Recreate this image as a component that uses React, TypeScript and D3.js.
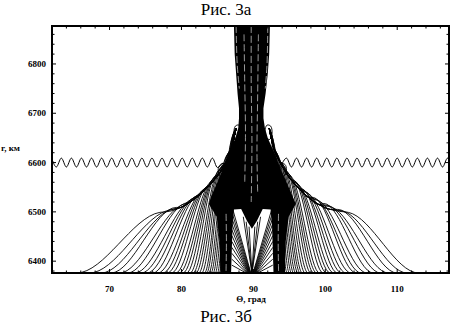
import * as d3 from "d3";
import { useEffect, useRef } from "react";

// axes
const thetaDomain: [number, number] = [62, 117.2];
const rDomain: [number, number] = [6376, 6877];
const xMajor = [70, 80, 90, 100, 110];
const xMinor = [64, 66, 68, 72, 74, 76, 78, 82, 84, 86, 88, 92, 94, 96, 98, 102, 104, 106, 108, 112, 114, 116];
const yMajor = [6400, 6500, 6600, 6700, 6800];
const yMinor = [6380, 6420, 6440, 6460, 6480, 6520, 6540, 6560, 6580, 6620, 6640, 6660, 6680, 6720, 6740, 6760, 6780, 6820, 6840, 6860];

// left family: where each trajectory leaves the bottom, and where it tops out
const leftStart = [65.4, 67.2, 68.8, 70.2, 71.4, 72.5, 73.5, 74.4, 75.2, 76.0, 76.7, 77.4, 78.0, 78.6, 79.2, 79.7, 80.2, 80.7, 81.2, 81.6, 82.0, 82.4, 82.8, 83.2, 83.5, 83.8, 84.1, 84.4, 84.7, 85.0, 85.25, 85.5, 85.75, 86.0, 86.25, 86.5];
const leftTopTheta = [77.0, 77.9, 78.6, 79.3, 79.9, 80.4, 80.9, 81.3, 81.7, 82.1, 82.5, 82.8, 83.1, 83.4, 83.7, 84.0, 84.2, 84.4, 84.6, 84.8, 85.0, 85.2, 85.4, 85.6, 85.75, 85.9, 86.05, 86.2, 86.35, 86.5, 86.6, 86.7, 86.8, 86.9, 87.0, 87.1];
const topR = [6499, 6502, 6505, 6509, 6513, 6517, 6521, 6525, 6529, 6533, 6538, 6542, 6546, 6550, 6555, 6560, 6564, 6568, 6572, 6576, 6580, 6584, 6588, 6592, 6596, 6600, 6604, 6608, 6612, 6616, 6620, 6624, 6628, 6632, 6636, 6640];
const leftEnvelope: [number, number][] = [[78.3, 6501], [79.9, 6509], [81.3, 6521], [82.8, 6538], [84.0, 6556], [85.2, 6577], [86.2, 6600], [87.0, 6632], [87.6, 6670]];

// right family: where each trajectory returns to the bottom, and where it tops out
const rightEnd = [113.0, 111.4, 110.0, 108.8, 107.7, 106.7, 105.8, 105.0, 104.3, 103.6, 102.9, 102.3, 101.7, 101.2, 100.7, 100.2, 99.7, 99.2, 98.8, 98.4, 98.0, 97.6, 97.2, 96.8, 96.5, 96.2, 95.9, 95.6, 95.3, 95.0, 94.7, 94.4, 94.1, 93.8, 93.5, 93.2];
const rightTopTheta = [103.2, 102.4, 101.7, 101.0, 100.4, 99.8, 99.3, 98.8, 98.4, 98.0, 97.6, 97.2, 96.9, 96.6, 96.3, 96.0, 95.7, 95.45, 95.2, 95.0, 94.8, 94.6, 94.4, 94.2, 94.0, 93.85, 93.7, 93.55, 93.4, 93.25, 93.1, 93.0, 92.9, 92.8, 92.7, 92.6];
const rightEnvelope: [number, number][] = [[92.2, 6670], [92.7, 6636], [93.4, 6610], [94.2, 6588], [95.2, 6566], [96.3, 6548], [97.6, 6530], [99.1, 6515], [100.7, 6505], [102.0, 6501]];

// outline of the dense black mass: column, neck and the two bands down to the bottom
const massOutline: [number, number][] = [
  [87.3, 6877], [87.4, 6820], [87.6, 6780], [87.8, 6740], [88.0, 6710], [88.0, 6690], [87.9, 6670], [87.5, 6650],
  [86.9, 6630], [86.3, 6610], [85.8, 6590], [85.3, 6570], [84.7, 6550], [84.1, 6530], [83.8, 6516], [84.9, 6490],
  [85.3, 6440], [85.4, 6376], [86.9, 6376], [87.1, 6470], [87.3, 6505], [88.3, 6506], [89.1, 6482], [89.8, 6466],
  [90.5, 6482], [91.3, 6506], [92.4, 6505], [92.6, 6470], [92.8, 6376], [94.4, 6376], [94.5, 6440], [94.9, 6490],
  [95.9, 6516], [95.5, 6530], [94.9, 6550], [94.3, 6570], [93.7, 6590], [93.2, 6610],
  [92.6, 6630], [92.0, 6650], [91.6, 6670], [91.4, 6690], [91.4, 6710], [91.7, 6740], [92.0, 6780], [92.2, 6820], [92.3, 6877],
];

// thin white gaps inside the column and the bands
const gapLines: [number, number][][] = [
  [[87.6, 6877], [87.75, 6800], [88.05, 6750]],
  [[92.0, 6877], [91.9, 6800], [91.65, 6750]],
  [[88.7, 6860], [88.8, 6760], [88.9, 6660], [88.8, 6560]],
  [[89.7, 6877], [89.7, 6760], [89.8, 6640], [89.7, 6520]],
  [[90.7, 6860], [90.6, 6740], [90.5, 6620], [90.6, 6540]],
  [[86.2, 6380], [86.25, 6440], [86.2, 6500]],
  [[93.5, 6380], [93.45, 6440], [93.5, 6500]],
];

// fan of trajectories meeting the bottom near the centre
const fanTopR = [6392, 6404, 6416, 6428, 6440, 6452, 6464, 6476, 6488, 6500, 6512];
const fanLeftBottom = [89.0, 89.1, 89.2, 89.3, 89.35, 89.4, 89.45, 89.5, 89.55, 89.6, 89.65];
const fanRightBottom = [90.6, 90.5, 90.4, 90.3, 90.25, 90.2, 90.15, 90.1, 90.05, 90.0, 89.95];
const funnelTop: [number, number][] = [[88.6, 6490], [89.0, 6480], [89.4, 6470], [90.2, 6470], [90.6, 6480], [91.0, 6490]];

// small loops beside the column
const loops: [number, number][][] = [
  [[87.3, 6660], [87.6, 6647], [88.1, 6650], [88.3, 6664], [88.0, 6676], [87.5, 6674]],
  [[91.6, 6664], [91.8, 6650], [92.3, 6647], [92.6, 6660], [92.4, 6674], [91.9, 6676]],
  [[85.1, 6585], [85.4, 6573], [85.9, 6575], [86.2, 6588], [85.9, 6598], [85.4, 6596]],
  [[93.5, 6588], [93.8, 6575], [94.3, 6573], [94.6, 6585], [94.4, 6596], [93.9, 6598]],
];

// oscillating trajectory near r = 6600
const leftWave: [number, number][] = [[62.0, 6607], [62.6, 6591], [63.3, 6609], [64.0, 6591], [64.7, 6609], [65.4, 6591], [66.1, 6609], [66.8, 6591], [67.5, 6609], [68.2, 6591], [68.9, 6609], [69.6, 6591], [70.3, 6609], [71.0, 6591], [71.7, 6609], [72.4, 6591], [73.1, 6609], [73.8, 6591], [74.5, 6609], [75.2, 6591], [75.9, 6609], [76.6, 6591], [77.3, 6609], [78.0, 6591], [78.7, 6609], [79.4, 6591], [80.1, 6609], [80.8, 6591], [81.5, 6609], [82.2, 6591], [82.9, 6609], [83.6, 6591], [84.3, 6609], [85.0, 6590], [85.8, 6600]];
const rightWave: [number, number][] = [[94.0, 6598], [94.6, 6609], [95.3, 6591], [96.0, 6609], [96.7, 6591], [97.4, 6609], [98.1, 6591], [98.8, 6609], [99.5, 6591], [100.2, 6609], [100.9, 6591], [101.6, 6609], [102.3, 6591], [103.0, 6609], [103.7, 6591], [104.4, 6609], [105.1, 6591], [105.8, 6609], [106.5, 6591], [107.2, 6609], [107.9, 6591], [108.6, 6609], [109.3, 6591], [110.0, 6609], [110.7, 6591], [111.4, 6609], [112.1, 6591], [112.8, 6609], [113.5, 6591], [114.2, 6609], [114.9, 6591], [115.6, 6609], [116.3, 6591], [117.0, 6609], [117.2, 6606]];

const Chart = () => {
  const svgRef = useRef<SVGSVGElement>(null);

  useEffect(() => {
    const width = 451;
    const height = 326;
    const left = 52, right = 449, top = 26, bottom = 273;
    const r0 = rDomain[0];

    const svg = d3.select(svgRef.current);
    svg.selectAll("*").remove();
    svg.append("rect").attr("width", width).attr("height", height).attr("fill", "#fff");

    const x = d3.scaleLinear().domain(thetaDomain).range([left, right]);
    const y = d3.scaleLinear().domain(rDomain).range([bottom, top]);

    svg.append("clipPath").attr("id", "plot-clip")
      .append("rect").attr("x", left).attr("y", top)
      .attr("width", right - left).attr("height", bottom - top);

    const plot = svg.append("g").attr("clip-path", "url(#plot-clip)");
    const stroke = (sel: any, w = 0.9) =>
      sel.attr("fill", "none").attr("stroke", "#000").attr("stroke-width", w);

    const lineX = d3.line<[number, number]>()
      .x((d) => x(d[0])).y((d) => y(d[1])).curve(d3.curveMonotoneX);

    // side families
    leftStart.forEach((s, i) => {
      const a = leftTopTheta[i];
      const pts: [number, number][] = [[s - 0.6, r0], [s, r0], [a, topR[i]],
        ...leftEnvelope.filter((p) => p[0] > a + 0.4)];
      stroke(plot.append("path").attr("d", lineX(pts)));
    });
    rightEnd.forEach((e, i) => {
      const a = rightTopTheta[i];
      const pts: [number, number][] = [...rightEnvelope.filter((p) => p[0] < a - 0.4),
        [a, topR[i]], [e, r0], [e + 0.6, r0]];
      stroke(plot.append("path").attr("d", lineX(pts)));
    });

    // central fan
    const lineL = d3.line<[number, number]>().x((d) => x(d[0])).y((d) => y(d[1]));
    fanTopR.forEach((r, i) => {
      stroke(plot.append("path").attr("d", lineL([[fanLeftBottom[i], r0], [87.0, r]])));
      stroke(plot.append("path").attr("d", lineL([[fanRightBottom[i], r0], [92.7, r]])));
    });
    funnelTop.forEach((p) => {
      stroke(plot.append("path").attr("d", lineL([[89.8, r0], p])));
    });

    // black mass
    const outline = d3.line<[number, number]>()
      .x((d) => x(d[0])).y((d) => y(d[1])).curve(d3.curveLinearClosed);
    plot.append("path").attr("d", outline(massOutline)).attr("fill", "#000");

    const lineY = d3.line<[number, number]>()
      .x((d) => x(d[0])).y((d) => y(d[1])).curve(d3.curveCatmullRom);
    gapLines.forEach((g) => {
      plot.append("path").attr("d", lineY(g)).attr("fill", "none")
        .attr("stroke", "#fff").attr("stroke-width", 0.6).attr("stroke-dasharray", "7,3");
    });

    const loopLine = d3.line<[number, number]>()
      .x((d) => x(d[0])).y((d) => y(d[1])).curve(d3.curveCatmullRomClosed);
    loops.forEach((l) => {
      stroke(plot.append("path").attr("d", loopLine(l)));
    });

    // waves
    [leftWave, rightWave].forEach((w) => {
      stroke(plot.append("path").attr("d", lineX(w)), 1);
    });

    // frame and ticks
    svg.append("rect").attr("x", left).attr("y", top)
      .attr("width", right - left).attr("height", bottom - top)
      .attr("fill", "none").attr("stroke", "#000").attr("stroke-width", 2);

    const ticks = svg.append("g").attr("stroke", "#000").attr("stroke-width", 1);
    const tickX = (v: number, len: number) => {
      ticks.append("line").attr("x1", x(v)).attr("x2", x(v)).attr("y1", bottom).attr("y2", bottom - len);
      ticks.append("line").attr("x1", x(v)).attr("x2", x(v)).attr("y1", top).attr("y2", top + len);
    };
    const tickY = (v: number, len: number) => {
      ticks.append("line").attr("y1", y(v)).attr("y2", y(v)).attr("x1", left).attr("x2", left + len);
      ticks.append("line").attr("y1", y(v)).attr("y2", y(v)).attr("x1", right).attr("x2", right - len);
    };
    xMajor.forEach((v) => tickX(v, 4));
    xMinor.forEach((v) => tickX(v, 2.5));
    yMajor.forEach((v) => tickY(v, 4));
    yMinor.forEach((v) => tickY(v, 2.5));

    const font = "'Liberation Serif', 'Times New Roman', serif";
    yMajor.forEach((v) => {
      svg.append("text").attr("x", left - 6).attr("y", y(v) + 3)
        .attr("text-anchor", "end").attr("font-family", font)
        .attr("font-size", 9).attr("font-weight", "bold").text(String(v));
    });
    xMajor.forEach((v) => {
      svg.append("text").attr("x", x(v)).attr("y", 292)
        .attr("text-anchor", "middle").attr("font-family", font)
        .attr("font-size", 9).attr("font-weight", "bold").text(String(v));
    });
    svg.append("text").attr("x", 1).attr("y", 151).attr("font-family", font)
      .attr("font-size", 9).attr("font-weight", "bold").text("r, км");
    svg.append("text").attr("x", 251).attr("y", 302).attr("text-anchor", "middle")
      .attr("font-family", font).attr("font-size", 9).attr("font-weight", "bold").text("Θ, град");
    svg.append("text").attr("x", 226).attr("y", 15).attr("text-anchor", "middle")
      .attr("font-family", font).attr("font-size", 17).text("Рис. 3а");
    svg.append("text").attr("x", 226).attr("y", 322).attr("text-anchor", "middle")
      .attr("font-family", font).attr("font-size", 17).text("Рис. 3б");
  }, []);

  return <svg ref={svgRef} width={451} height={326} style={{ position: "absolute", left: 0, top: 0 }} />;
};

export default function App() {
  return <Chart />;
}
